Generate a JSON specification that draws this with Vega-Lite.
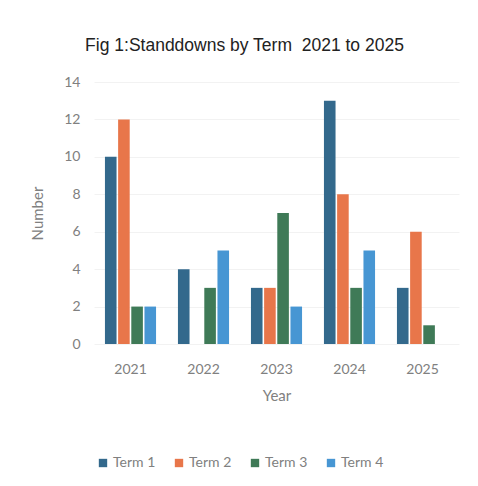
{
  "$schema": "https://vega.github.io/schema/vega-lite/v6.json",
  "autosize": {"type": "none"},
  "width": 365,
  "height": 262,
  "padding": {"left": 94, "top": 82, "right": 19, "bottom": 142},
  "background": "white",
  "title": {"text": "Fig 1:Standdowns by Term\u00a0\u00a02021 to 2025", "font": "Liberation Sans", "fontSize": 17.5, "fontWeight": "normal", "color": "#222222", "anchor": "middle", "offset": 21, "dx": -32},
  "data": {"values": [
    {"Year": "2021", "Term": "Term 1", "Number": 10},
    {"Year": "2021", "Term": "Term 2", "Number": 12},
    {"Year": "2021", "Term": "Term 3", "Number": 2},
    {"Year": "2021", "Term": "Term 4", "Number": 2},
    {"Year": "2022", "Term": "Term 1", "Number": 4},
    {"Year": "2022", "Term": "Term 2", "Number": 0},
    {"Year": "2022", "Term": "Term 3", "Number": 3},
    {"Year": "2022", "Term": "Term 4", "Number": 5},
    {"Year": "2023", "Term": "Term 1", "Number": 3},
    {"Year": "2023", "Term": "Term 2", "Number": 3},
    {"Year": "2023", "Term": "Term 3", "Number": 7},
    {"Year": "2023", "Term": "Term 4", "Number": 2},
    {"Year": "2024", "Term": "Term 1", "Number": 13},
    {"Year": "2024", "Term": "Term 2", "Number": 8},
    {"Year": "2024", "Term": "Term 3", "Number": 3},
    {"Year": "2024", "Term": "Term 4", "Number": 5},
    {"Year": "2025", "Term": "Term 1", "Number": 3},
    {"Year": "2025", "Term": "Term 2", "Number": 6},
    {"Year": "2025", "Term": "Term 3", "Number": 1},
    {"Year": "2025", "Term": "Term 4", "Number": 0}
  ]},
  "mark": {"type": "bar"},
  "encoding": {
    "x": {"field": "Year", "type": "nominal", "scale": {"paddingInner": 0.3, "paddingOuter": 0.15},
      "axis": {"title": "Year", "labelAngle": 0, "domain": false, "ticks": false, "labelPadding": 18, "titlePadding": 12, "labelFont": "Lato", "labelFontSize": 14, "labelColor": "#808080", "titleFont": "Lato", "titleFontSize": 15, "titleFontWeight": "normal", "titleColor": "#808080"}},
    "xOffset": {"field": "Term", "type": "nominal", "scale": {"paddingInner": 0.12}},
    "y": {"field": "Number", "type": "quantitative", "scale": {"domain": [0, 14]},
      "axis": {"title": "Number", "values": [0,2,4,6,8,10,12,14], "labelOverlap": false, "domain": false, "ticks": false, "labelPadding": 14, "titlePadding": 18, "grid": true, "gridColor": "#f2f2f2", "labelFont": "Lato", "labelFontSize": 14, "labelColor": "#808080", "titleFont": "Lato", "titleFontSize": 15, "titleFontWeight": "normal", "titleColor": "#808080"}},
    "color": {"field": "Term", "type": "nominal",
      "scale": {"domain": ["Term 1", "Term 2", "Term 3", "Term 4"], "range": ["#33698c", "#e8764a", "#3f7a57", "#4796d3"]},
      "legend": {"title": null, "orient": "none", "direction": "horizontal", "legendX": 2, "legendY": 374, "symbolType": "square", "symbolSize": 70, "symbolStrokeWidth": 0, "labelFont": "Lato", "labelFontSize": 14, "labelColor": "#808080", "columnPadding": 16, "labelOffset": 3}}
  },
  "config": {"view": {"stroke": null}}
}
